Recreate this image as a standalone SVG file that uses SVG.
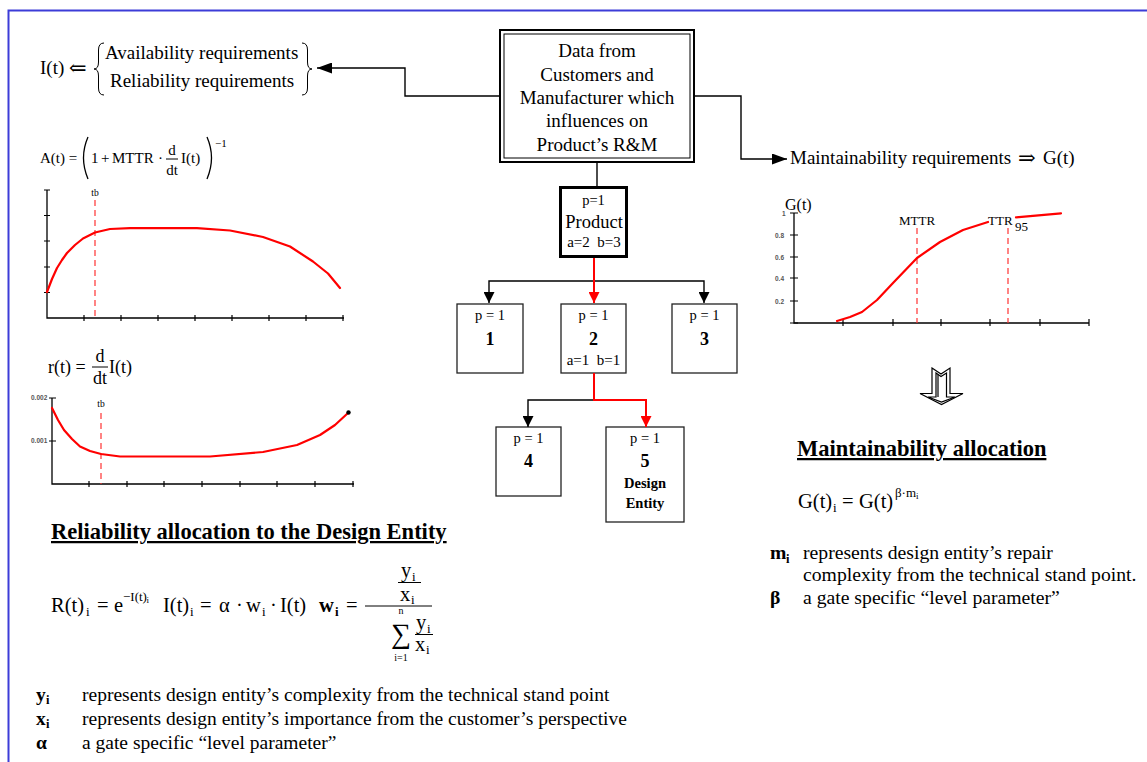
<svg xmlns="http://www.w3.org/2000/svg" width="1147" height="762" viewBox="0 0 1147 762">
<style>
text{font-family:"Liberation Serif","Times New Roman","DejaVu Serif",serif;fill:#000}
.t19{font-size:19px}
.tr{font-size:19.7px}
.tl{font-size:19.5px}
.t15{font-size:15px}
.t14{font-size:14.5px}
.f{font-size:20.5px}
.s{font-size:13px}
.b{font-weight:bold}
.m{text-anchor:middle}
.ax{stroke:#000;stroke-width:1.3;fill:none}
.tk{stroke:#000;stroke-width:1.2}
.red{stroke:#f00;stroke-width:2.2;fill:none;stroke-linejoin:round;stroke-linecap:round}
.dash{stroke:#f33;stroke-width:1.2;stroke-dasharray:6,4;fill:none}
.box{fill:#fff;stroke:#222;stroke-width:1.3}
.conn{fill:none;stroke:#000;stroke-width:1.4}
.connr{fill:none;stroke:#f00;stroke-width:2}
.lbl{font-family:"Liberation Sans",Arial,sans-serif;font-size:6.5px;fill:#555;font-weight:bold}
.hd{font-size:22.5px;font-weight:bold;text-decoration:underline}
.fl{stroke:#000;stroke-width:1}
</style>
<defs>
<marker id="ab" markerUnits="userSpaceOnUse" markerWidth="11" markerHeight="11" refX="11" refY="5.5" orient="auto"><path d="M0,0 L11,5.5 L0,11 z" fill="#000"/></marker>
<marker id="ar" markerUnits="userSpaceOnUse" markerWidth="11" markerHeight="11" refX="11" refY="5.5" orient="auto"><path d="M0,0 L11,5.5 L0,11 z" fill="#f00"/></marker>
<marker id="abig" markerUnits="userSpaceOnUse" markerWidth="15" markerHeight="11" refX="15" refY="5.5" orient="auto"><path d="M0,0 L15,5.5 L0,11 z" fill="#000"/></marker>
</defs>

<!-- frame -->
<path d="M8.5,762 V10.5 H1147" fill="none" stroke="#3c3cd8" stroke-width="2"/>

<!-- top-left requirements -->
<g id="req-left">
<text class="t19" x="40" y="74">I(t)</text>
<text x="69" y="75" font-size="21" style="font-family:'DejaVu Serif',serif">⇐</text>
<path d="M104,43 Q98.5,43 98.5,50 L98.5,62 Q98.5,69 94,69 Q98.5,69 98.5,76 L98.5,88 Q98.5,95 104,95" fill="none" stroke="#000" stroke-width="1"/>
<text class="t19" x="105" y="59">Availability requirements</text>
<text class="t19" x="110" y="87">Reliability requirements</text>
<path d="M302,43 Q307.5,43 307.5,50 L307.5,62 Q307.5,69 312,69 Q307.5,69 307.5,76 L307.5,88 Q307.5,95 302,95" fill="none" stroke="#000" stroke-width="1"/>
</g>

<!-- A(t) formula -->
<g id="formula-A">
<text class="t15" x="40" y="163">A(t) =</text>
<path d="M88,137 Q79,157.5 88,179" fill="none" stroke="#000" stroke-width="1.3"/>
<text class="t15" x="91" y="163">1</text>
<text class="t15" x="101" y="163">+</text>
<text class="t15" x="112" y="163">MTTR</text>
<text class="t15" x="158" y="163">·</text>
<text class="t15" x="172" y="155" text-anchor="middle">d</text>
<line class="fl" x1="166" y1="159" x2="178" y2="159"/>
<text class="t15" x="172" y="175" text-anchor="middle">dt</text>
<text class="t15" x="181" y="163">I(t)</text>
<path d="M207,137 Q216,157.5 207,179" fill="none" stroke="#000" stroke-width="1.3"/>
<text x="215" y="147" font-size="11">−1</text>
</g>

<!-- A(t) graph -->
<g id="graph-A">
<path class="ax" d="M47,190 V318 H344"/>
<path class="tk" d="M44,190 H50 M44,215.5 H50 M44,241 H50 M44,267 H50 M44,292.5 H50 M84,315 V321 M121,315 V321 M158,315 V321 M195,315 V321 M232,315 V321 M269,315 V321 M306,315 V321 M343,315 V321"/>
<line class="dash" x1="95" y1="200" x2="95" y2="318"/>
<text x="95" y="196" font-size="9.5" text-anchor="middle">tb</text>
<polyline class="red" points="47,292 52,279 57,268 62,260 67,253 75,245 83,238.5 95,232.5 110,229 130,228.2 197,228.2 230,230.5 263,237 290,246.5 313,261.5 328,273.5 340,288"/>
</g>

<!-- r(t) formula -->
<g id="formula-r">
<text x="48" y="373" font-size="18">r(t) =</text>
<text x="100" y="362" font-size="18" text-anchor="middle">d</text>
<line class="fl" x1="92" y1="367" x2="108" y2="367"/>
<text x="100" y="384" font-size="18" text-anchor="middle">dt</text>
<text x="109" y="373" font-size="18">I(t)</text>
</g>

<!-- r(t) graph -->
<g id="graph-r">
<path class="ax" d="M52,398 V484 H354"/>
<path class="tk" d="M49,398 H56 M49,441 H56 M89,481 V487 M127,481 V487 M164,481 V487 M202,481 V487 M240,481 V487 M277,481 V487 M315,481 V487 M353,481 V487"/>
<text class="lbl" x="31" y="400">0.002</text>
<text class="lbl" x="31" y="443">0.001</text>
<line class="dash" x1="101" y1="413" x2="101" y2="484"/>
<text x="101" y="407" font-size="9.5" text-anchor="middle">tb</text>
<polyline class="red" points="52,408 58,420 64,430 72,439 80,446.5 90,451 101,454 120,456.5 210,456.5 263,452 297,445 320,435 335,425 348,413"/>
<circle cx="348.5" cy="412.5" r="2.2" fill="#000"/>
</g>

<!-- central data box -->
<g id="node-data">
<rect x="500" y="30" width="194" height="132" fill="#fff" stroke="#000" stroke-width="2"/>
<rect x="504" y="34" width="186" height="124" fill="none" stroke="#000" stroke-width="1"/>
<text class="t19 m" x="597" y="57">Data from</text>
<text class="t19 m" x="597" y="80.5">Customers and</text>
<text class="t19 m" x="597" y="104">Manufacturer which</text>
<text class="t19 m" x="597" y="127">influences on</text>
<text class="t19 m" x="597" y="150.5">Product’s R&amp;M</text>
</g>

<!-- maintainability requirement -->
<g id="req-right">
<text class="t19" x="790" y="164">Maintainability requirements</text>
<text x="1018" y="165" font-size="21" style="font-family:'DejaVu Serif',serif">⇒</text>
<text class="t19" x="1043" y="164">G(t)</text>
</g>

<!-- tree nodes -->
<g id="node-product">
<rect x="560.5" y="187.5" width="66" height="69" fill="#fff" stroke="#000" stroke-width="3"/>
<text class="t14 m" x="593.5" y="205">p=1</text>
<text class="m" x="594" y="228" font-size="18.5">Product</text>
<text class="m" x="594" y="247" font-size="15">a=2&#160; b=3</text>
</g>
<g id="node-1">
<rect class="box" x="457" y="304" width="66" height="69"/>
<text class="t14 m" x="490" y="320">p = 1</text>
<text class="m b" x="490" y="345" font-size="18">1</text>
</g>
<g id="node-2">
<rect class="box" x="561" y="304" width="65" height="69"/>
<text class="t14 m" x="593.5" y="320">p = 1</text>
<text class="m b" x="593.5" y="345" font-size="18">2</text>
<text class="m" x="593.5" y="365" font-size="15">a=1&#160; b=1</text>
</g>
<g id="node-3">
<rect class="box" x="672" y="304" width="65" height="69"/>
<text class="t14 m" x="704.5" y="320">p = 1</text>
<text class="m b" x="704.5" y="345" font-size="18">3</text>
</g>
<g id="node-4">
<rect class="box" x="496" y="427" width="65" height="69"/>
<text class="t14 m" x="528.5" y="443">p = 1</text>
<text class="m b" x="528.5" y="467" font-size="18">4</text>
</g>
<g id="node-5">
<rect class="box" x="606" y="427" width="78" height="95"/>
<text class="t14 m" x="645" y="443">p = 1</text>
<text class="m b" x="645" y="467" font-size="18">5</text>
<text class="m b" x="645" y="488" font-size="14.5">Design</text>
<text class="m b" x="645" y="508" font-size="14.5">Entity</text>
</g>

<!-- connectors -->
<g id="connectors">
<path class="conn" d="M499,96 H405 V68 H317" marker-end="url(#abig)"/>
<path class="conn" d="M695,96 H741 V159 H787" marker-end="url(#abig)"/>
<path class="conn" d="M597,163 V186"/>
<path class="conn" d="M594,281 H489 V303" marker-end="url(#ab)"/>
<path class="conn" d="M594,281 H704 V303" marker-end="url(#ab)"/>
<path class="connr" d="M594,258 V303" marker-end="url(#ar)"/>
<path class="conn" d="M594,400 H528 V427" marker-end="url(#ab)"/>
<path class="connr" d="M594,373 V400 H646 V427" marker-end="url(#ar)"/>
</g>

<!-- G(t) graph -->
<g id="graph-G">
<path class="ax" d="M794,213 V323 H1089"/>
<path class="tk" d="M790,213 H798 M790,235 H798 M790,257 H798 M790,278 H798 M790,301 H798 M790,323 H798 M843,319 V326 M893,319 V326 M941,319 V326 M990,319 V326 M1040,319 V326 M1089,319 V326"/>
<text x="785" y="210" font-size="16">G(t)</text>
<text class="lbl" x="782" y="216">1</text>
<text class="lbl" x="775" y="237.5">0.8</text>
<text class="lbl" x="775" y="259.5">0.6</text>
<text class="lbl" x="775" y="280.5">0.4</text>
<text class="lbl" x="775" y="303.5">0.2</text>
<line class="dash" x1="917" y1="228" x2="917" y2="323"/>
<line class="dash" x1="1008" y1="228" x2="1008" y2="323"/>
<text x="917" y="225" font-size="13" text-anchor="middle">MTTR</text>
<polyline class="red" points="837,321 850,317 862,312 877,300 893,283 917,258 940,242 963,230 988,222"/>
<polyline class="red" points="1016,217.3 1061,213.3"/>
<text x="988" y="225" font-size="13">TTR</text>
<text x="1015" y="231" font-size="13">95</text>
</g>

<!-- hollow down arrow -->
<g id="down-arrow" fill="none" stroke="#000" stroke-width="1.2" stroke-linejoin="miter">
<path d="M932,368 L941,374 L950,368 L950,393.5 L963,393.5 L941.5,404.5 L920,393.5 L932,393.5 Z" fill="#fff"/>
<path d="M936,373 L941,376.5 L946.5,373 L946.5,397 L955,397 L941.5,402 L928,397 L936,397 Z"/>
<path d="M938,374.5 V397"/>
</g>

<!-- maintainability allocation -->
<g id="maint-alloc">
<text class="hd" x="797" y="456">Maintainability allocation</text>
<text class="f" x="798" y="508">G(t)</text>
<text class="s" x="833" y="512">i</text>
<text class="f" x="842" y="508">=</text>
<text class="f" x="859" y="508">G(t)</text>
<text class="s" x="895" y="497">β·m</text>
<text x="916" y="499" font-size="9">i</text>
<text x="770" y="559" font-size="19.7" class="b">m</text>
<text x="786" y="563" font-size="12.5" class="b">i</text>
<text class="tr" x="803" y="559">represents design entity’s repair</text>
<text class="tr" x="803" y="581">complexity from the technical stand point.</text>
<text x="770" y="604" font-size="19.7" class="b">β</text>
<text class="tr" x="803" y="604">a gate specific “level parameter”</text>
</g>

<!-- reliability allocation -->
<g id="rel-alloc">
<text class="hd" x="51" y="539">Reliability allocation to the Design Entity</text>
<text class="f" x="51" y="612">R(t)</text>
<text class="s" x="86" y="616">i</text>
<text class="f" x="97" y="612">=</text>
<text class="f" x="114" y="612">e</text>
<text class="s" x="123" y="601">−I(t)</text>
<text x="146.5" y="603" font-size="9">i</text>
<text class="f" x="163" y="612">I(t)</text>
<text class="s" x="190" y="616">i</text>
<text class="f" x="200" y="612">=</text>
<text class="f" x="219" y="612">α</text>
<text class="f" x="236" y="612">·</text>
<text class="f" x="246" y="612">w</text>
<text class="s" x="262" y="616">i</text>
<text class="f" x="270" y="612">·</text>
<text class="f" x="280" y="612">I(t)</text>
<text class="f b" x="319" y="612">w</text>
<text class="s b" x="335" y="616">i</text>
<text class="f" x="346" y="612">=</text>
<line class="fl" x1="365" y1="606" x2="432" y2="606"/>
<text class="f" x="401" y="577">y</text>
<text class="s" x="412" y="581">i</text>
<line class="fl" x1="398" y1="582.5" x2="421" y2="582.5"/>
<text class="f" x="400" y="601">x</text>
<text class="s" x="411" y="604">i</text>
<text x="401" y="614" font-size="10" text-anchor="middle">n</text>
<text x="401" y="643" font-size="28" text-anchor="middle">∑</text>
<text x="401" y="661" font-size="10" text-anchor="middle">i=1</text>
<text class="f" x="416" y="629">y</text>
<text class="s" x="427" y="633">i</text>
<line class="fl" x1="415" y1="634.5" x2="433" y2="634.5"/>
<text class="f" x="415" y="651">x</text>
<text class="s" x="426" y="654">i</text>
</g>

<!-- legend -->
<g id="legend">
<text x="36" y="701" font-size="19.5" class="b">y</text>
<text x="46" y="704" font-size="12.5" class="b">i</text>
<text class="tl" x="82" y="701">represents design entity’s complexity from the technical stand point</text>
<text x="36" y="725" font-size="19.5" class="b">x</text>
<text x="46" y="728" font-size="12.5" class="b">i</text>
<text class="tl" x="82" y="725">represents design entity’s importance from the customer’s perspective</text>
<text x="36" y="749" font-size="19.5" class="b">α</text>
<text class="tl" x="82" y="749">a gate specific “level parameter”</text>
</g>
</svg>
